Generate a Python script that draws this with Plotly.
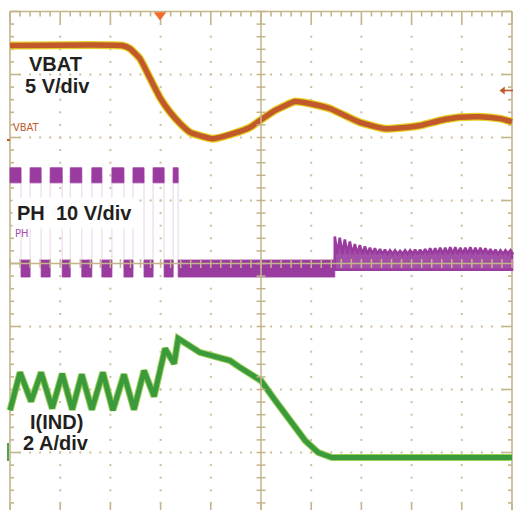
import plotly.graph_objects as go

# ---------------- data (screen divisions: time -5..5, level -4..4) ----------------
vbat_t = [-5.0, -2.77, -2.61, -2.41, -2.21, -2.01, -1.81, -1.61, -1.41, -1.22, -0.96, -0.56, -0.22, -0.02,
          0.28, 0.68, 1.08, 1.37, 1.67, 1.97, 2.47, 2.87, 3.17, 3.57, 3.96, 4.36, 4.76, 5.0]
vbat_v = [3.46, 3.46, 3.41, 3.25, 2.94, 2.63, 2.40, 2.22, 2.08, 2.03, 1.98, 2.06, 2.16, 2.27,
          2.43, 2.57, 2.52, 2.46, 2.35, 2.24, 2.14, 2.16, 2.19, 2.27, 2.32, 2.33, 2.30, 2.25]

ind_t = [-5.0, -4.80, -4.58, -4.38, -4.16, -3.96, -3.76, -3.57, -3.37, -3.15, -2.95, -2.73, -2.53, -2.33,
         -2.13, -1.91, -1.73, -1.65, -1.22, -0.62, -0.42, 0.0, 0.28, 0.58, 0.88, 1.14, 1.41, 5.0]
ind_i = [-2.33, -1.73, -2.19, -1.73, -2.30, -1.75, -2.32, -1.76, -2.32, -1.73, -2.33, -1.76, -2.32, -1.70,
         -2.11, -1.35, -1.59, -1.19, -1.41, -1.54, -1.65, -1.86, -2.17, -2.49, -2.81, -3.0, -3.08, -3.08]

ph_rise = [-5.0, -4.60, -4.20, -3.80, -3.37, -2.97, -2.55, -2.15, -1.75]
ph_fall = [-4.78, -4.38, -3.96, -3.57, -3.17, -2.73, -2.33, -1.93, -1.65]
ph_high = 1.40
ph_low = -0.08
ring_start = 1.47
ph_end = 5.0
ring_t = [1.47, 1.57, 1.67, 1.77, 1.87, 1.97, 2.07, 2.17, 2.27, 2.37, 2.47, 2.57, 2.67, 2.77, 2.87, 2.97,
          3.07, 3.17, 3.27, 3.37, 3.47, 3.57, 3.67, 3.77, 3.87, 3.97, 4.07, 4.17, 4.27, 4.37, 4.47, 4.57,
          4.67, 4.77, 4.87, 4.97]
ring_peak = [0.43, 0.41, 0.38, 0.35, 0.31, 0.29, 0.27, 0.25, 0.24, 0.23, 0.22, 0.21, 0.21, 0.20, 0.21, 0.21,
             0.22, 0.22, 0.23, 0.24, 0.24, 0.25, 0.25, 0.26, 0.26, 0.25, 0.25, 0.26, 0.25, 0.25, 0.24, 0.23,
             0.22, 0.21, 0.21, 0.21]
ring_trough = 0.15

# ---------------- screen geometry / style ----------------
W, H = 515, 510
PXX, PXY = 50.2, 63.0     # pixels per division
CX, CY = 261.0, 263.5     # pixel position of screen centre


def px2x(px):
    return (px - CX) / PXX


def py2y(py):
    return (CY - py) / PXY


GRID = "#c4b48c"
GRID_DOT = "#cdbf9c"
ORANGE_DARK = "#c2592a"
YELLOW = "#e6d02a"
PURPLE = "#9a3c9f"
PURPLE_LIGHT = "rgba(200,150,210,0.35)"
GREEN_DARK = "#3a9a3c"
GREEN_LIGHT = "#9ccf57"
TXT = "#231f20"

fig = go.Figure()

# ---------------- dotted graticule (under traces) ----------------
dx, dy = [], []
for mx in range(-4, 5):
    if mx == 0:
        continue
    for j in range(-19, 20):
        dx.append(mx)
        dy.append(j * 0.2)
for my in range(-3, 4):
    if my == 0:
        continue
    for i in range(-24, 25):
        dx.append(i * 0.2)
        dy.append(my)
fig.add_trace(go.Scatter(x=dx, y=dy, mode="markers",
                         marker=dict(symbol="square", size=2, color=GRID_DOT, line=dict(width=0)),
                         hoverinfo="skip"))

# border + border ticks
bx, by = [], []
for seg in [((-5, -4.3), (-5, 4)), ((5, -4.3), (5, 4)), ((-5, 4), (5, 4)), ((-5, -4), (5, -4))]:
    bx += [seg[0][0], seg[1][0], None]
    by += [seg[0][1], seg[1][1], None]
for i in range(-25, 26):
    L = (12 if i % 5 == 0 else 5) / PXY
    x = i * 0.2
    bx += [x, x, None, x, x, None]
    by += [4, 4 - L, None, -4, -4 + L, None]
for j in range(-20, 21):
    L = (10 if j % 5 == 0 else 4) / PXX
    y = j * 0.2
    bx += [-5, -5 + L, None, 5, 5 - L, None]
    by += [y, y, None, y, y, None]
fig.add_trace(go.Scatter(x=bx, y=by, mode="lines", line=dict(color=GRID, width=1.6),
                         hoverinfo="skip", connectgaps=False))

# ---------------- VBAT ----------------
fig.add_trace(go.Scatter(x=vbat_t, y=vbat_v, mode="lines", line=dict(color=YELLOW, width=8, shape="spline", smoothing=0.4),
                         hoverinfo="skip"))
fig.add_trace(go.Scatter(x=vbat_t, y=vbat_v, mode="lines", line=dict(color=ORANGE_DARK, width=5.5, shape="spline", smoothing=0.4),
                         hoverinfo="skip"))

# ---------------- PH ----------------
HB, LB = 0.12, 0.135
rx, ry = [], []
for r, f in zip(ph_rise, ph_fall):
    rx += [r, f, f, r, r, None]
    ry += [ph_high - HB, ph_high - HB, ph_high + HB, ph_high + HB, ph_high - HB, None]
for k in range(len(ph_fall)):
    a = ph_fall[k]
    b = ph_rise[k + 1] if k + 1 < len(ph_rise) else ring_start
    rx += [a, b, b, a, a, None]
    ry += [ph_low - LB, ph_low - LB, ph_low + LB, ph_low + LB, ph_low - LB, None]
# transition edges
ex, ey = [], []
for r, f in zip(ph_rise, ph_fall):
    if r > -4.99:
        ex += [r, r, None]
        ey += [ph_low, ph_high, None]
    ex += [f, f, None]
    ey += [ph_high, ph_low, None]
fig.add_trace(go.Scatter(x=ex, y=ey, mode="lines", line=dict(color=PURPLE_LIGHT, width=1.2), hoverinfo="skip"))
fig.add_trace(go.Scatter(x=rx, y=ry, mode="lines", fill="toself", fillcolor=PURPLE,
                         line=dict(color=PURPLE, width=0.8), hoverinfo="skip"))
# ringing section
zx, zy = [ring_start], [ph_low + LB]
for t, p in zip(ring_t, ring_peak):
    zx += [t, t + 0.05]
    zy += [p, ring_trough]
zx += [ph_end, ph_end, ring_start, ring_start]
zy += [ring_trough, ph_low - 0.02, ph_low - 0.02, ph_low + LB]
fig.add_trace(go.Scatter(x=zx, y=zy, mode="lines", fill="toself", fillcolor="rgba(154,60,159,0.9)",
                         line=dict(color=PURPLE, width=2.6), hoverinfo="skip"))

# ---------------- I(IND) ----------------
fig.add_trace(go.Scatter(x=ind_t, y=ind_i, mode="lines", line=dict(color=GREEN_LIGHT, width=7), hoverinfo="skip"))
fig.add_trace(go.Scatter(x=ind_t, y=ind_i, mode="lines", line=dict(color=GREEN_DARK, width=5), hoverinfo="skip"))

# ---------------- centre axes (over traces) ----------------
cx_, cy_ = [0, 0, None, -5, 5, None], [-4.3, 4, None, 0, 0, None]
for i in range(-25, 26):
    x = i * 0.2
    cx_ += [x, x, None]
    cy_ += [-4.5 / PXY, 4.5 / PXY, None]
for j in range(-20, 21):
    y = j * 0.2
    cx_ += [-4.5 / PXX, 4.5 / PXX, None]
    cy_ += [y, y, None]
fig.add_trace(go.Scatter(x=cx_, y=cy_, mode="lines", line=dict(color=GRID, width=1.5), hoverinfo="skip"))

# ---------------- channel markers ----------------
fig.add_trace(go.Scatter(x=[px2x(160)], y=[py2y(15)], mode="markers",
                         marker=dict(symbol="triangle-down", size=11, color="#f26b2b", line=dict(width=0)),
                         hoverinfo="skip"))
fig.add_trace(go.Scatter(x=[px2x(503), px2x(513)], y=[py2y(90.5), py2y(90.5)], mode="lines",
                         line=dict(color=ORANGE_DARK, width=1.6), hoverinfo="skip"))
fig.add_trace(go.Scatter(x=[px2x(503)], y=[py2y(90.5)], mode="markers",
                         marker=dict(symbol="triangle-left", size=7, color=ORANGE_DARK, line=dict(width=0)),
                         hoverinfo="skip"))
fig.add_trace(go.Scatter(x=[px2x(7), px2x(10)], y=[py2y(140), py2y(140)], mode="lines",
                         line=dict(color=ORANGE_DARK, width=2), hoverinfo="skip"))
fig.add_trace(go.Scatter(x=[px2x(8), px2x(8)], y=[py2y(443), py2y(461)], mode="lines",
                         line=dict(color=GREEN_DARK, width=1.8), hoverinfo="skip"))

# ---------------- text ----------------
ann = []
big = dict(family="Liberation Sans, Arial, sans-serif", size=20, color=TXT)
for txt, px, py in [("<b>VBAT</b>", 55, 64), ("<b>5 V/div</b>", 57, 86),
                    ("<b>I(IND)</b>", 56, 422), ("<b>2 A/div</b>", 56, 443)]:
    ann.append(dict(x=px2x(px), y=py2y(py), text=txt, showarrow=False, font=big,
                    xanchor="center", yanchor="middle"))
ann.append(dict(x=px2x(12), y=py2y(213), text="<b>PH  10 V/div</b>", showarrow=False, font=big,
                xanchor="left", yanchor="middle", bgcolor="white", borderpad=4))
small = dict(family="Liberation Sans Narrow, DejaVu Sans Condensed, Arial Narrow, sans-serif", size=11)
ann.append(dict(x=px2x(11), y=py2y(127), text="VBAT", showarrow=False,
                font=dict(small, color=ORANGE_DARK), xanchor="left", yanchor="middle"))
ann.append(dict(x=px2x(13), y=py2y(233), text="PH", showarrow=False,
                font=dict(small, color="#a14fa6"), xanchor="left", yanchor="middle"))

fig.update_layout(
    width=W, height=H, margin=dict(l=0, r=0, t=0, b=0),
    paper_bgcolor="white", plot_bgcolor="white", showlegend=False,
    xaxis=dict(visible=False, range=[px2x(0), px2x(W)], fixedrange=True),
    yaxis=dict(visible=False, range=[py2y(H), py2y(0)], fixedrange=True),
    annotations=ann,
)
fig.write_html("out.html", config={"displayModeBar": False},
               post_script="document.body.style.margin='0';document.body.style.overflow='hidden';")
